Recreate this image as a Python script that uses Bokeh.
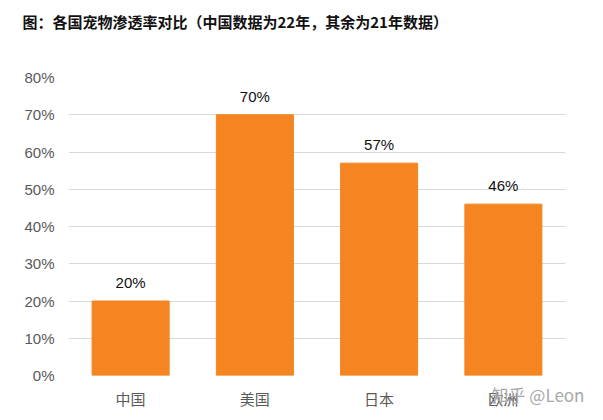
from bokeh.plotting import figure
from bokeh.models import ColumnDataSource, FactorRange, Range1d, PrintfTickFormatter, FixedTicker, Title
from bokeh.core.properties import value
from bokeh.embed import file_html
from bokeh.resources import INLINE

categories = ["中国", "美国", "日本", "欧洲"]
penetration = [20, 70, 57, 46]
labels = ["20%", "70%", "57%", "46%"]
y_ticks = [0, 10, 20, 30, 40, 50, 60, 70, 80]
title_text = "图：各国宠物渗透率对比（中国数据为22年，其余为21年数据）"
watermark = "知乎 @Leon"

src = ColumnDataSource(dict(cat=categories, val=penetration, lab=labels))

p = figure(width=587, height=412, x_range=FactorRange(*categories, range_padding=0),
           y_range=Range1d(0, 80), output_backend="svg", toolbar_location=None,
           min_border_left=68, min_border_right=22, min_border_top=77, min_border_bottom=37)
p.title.text = ""

# spacer (closest to the frame), then the real title above it
spacer = Title(text=" ", text_font_size="2px", standoff=42)
p.add_layout(spacer, "above")
main_title = Title(text=title_text, text_font="Noto Sans CJK SC", text_font_size="15px",
                   text_font_style="bold", text_color="#111111", align="left",
                   offset=-46, standoff=0)
p.add_layout(main_title, "above")

p.outline_line_color = None
p.vbar(x="cat", top="val", width=0.62, source=src, color="#F48521")
p.text(x="cat", y="val", text="lab", source=src, y_offset=-10, text_align="center",
       text_baseline="bottom", text_font=value("Liberation Sans"), text_font_size="15px",
       text_color="#111111")

p.xgrid.grid_line_color = None
p.ygrid.grid_line_color = "#d9d9d9"
p.ygrid.grid_line_width = 1
p.yaxis.ticker = FixedTicker(ticks=y_ticks)
p.yaxis.formatter = PrintfTickFormatter(format="%d%%")
for ax in (p.xaxis, p.yaxis):
    ax.axis_line_color = None
    ax.major_tick_line_color = None
    ax.minor_tick_line_color = None
    ax.major_tick_out = 0
    ax.major_tick_in = 0
    ax.major_label_text_color = "#595959"
    ax.major_label_text_font_size = "15px"
p.yaxis.major_label_text_font = "Liberation Sans"
p.xaxis.major_label_text_font = "Noto Sans CJK SC"
p.yaxis.major_label_standoff = 14
p.xaxis.major_label_standoff = 12

# watermark drawn as the (centred) x axis label, pushed right with leading
# ideographic spaces and pulled up over the tick labels
xa = p.xaxis[0]
xa.axis_label = "\u3000" * 26 + watermark
xa.axis_label_text_font = "Noto Sans CJK SC"
xa.axis_label_text_font_size = "17px"
xa.axis_label_text_font_style = "normal"
xa.axis_label_text_color = "#a8a8a8"
xa.axis_label_standoff = -30

open("out.html", "w").write(file_html(p, INLINE))
